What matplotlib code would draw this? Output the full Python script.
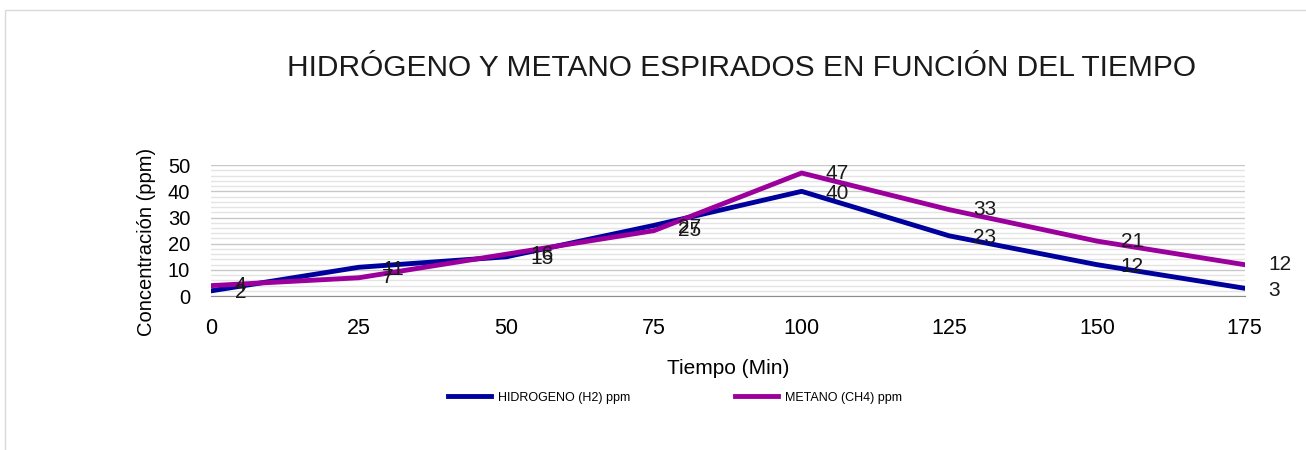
import matplotlib
matplotlib.use("Agg")
import matplotlib.pyplot as plt
from matplotlib.patches import Rectangle
from matplotlib.ticker import MultipleLocator

plt.rcParams['font.family'] = ['Liberation Sans', 'DejaVu Sans']

tiempo = [0, 25, 50, 75, 100, 125, 150, 175]
hidrogeno = [2, 11, 15, 27, 40, 23, 12, 3]
metano = [4, 7, 16, 25, 47, 33, 21, 12]

c_h2 = '#00009c'
c_ch4 = '#9c009c'

fig = plt.figure(figsize=(13.06, 4.5), dpi=100)
ax = fig.add_axes([0.1616, 0.342, 0.7914, 0.291])

# frame around the whole chart (right/bottom edges run off the image)
fig.patches.append(Rectangle((0.004, -0.05), 1.2, 1.028, transform=fig.transFigure,
                             fill=False, edgecolor='#d9d9d9', linewidth=1))

l1, = ax.plot(tiempo, hidrogeno, color=c_h2, linewidth=3.5, label='HIDROGENO (H2) ppm')
l2, = ax.plot(tiempo, metano, color=c_ch4, linewidth=3.5, label='METANO (CH4) ppm')

for x, y in zip(tiempo, hidrogeno):
    ax.annotate(str(y), (x, y), xytext=(17, -1.5), textcoords='offset points',
                va='center', ha='left', fontsize=15, color='#1a1a1a')
for x, y in zip(tiempo, metano):
    ax.annotate(str(y), (x, y), xytext=(17, 0), textcoords='offset points',
                va='center', ha='left', fontsize=15, color='#1a1a1a')

ax.set_xlim(0, 175)
ax.set_ylim(0, 50)
ax.set_xticks(tiempo)
ax.yaxis.set_major_locator(MultipleLocator(10))
ax.yaxis.set_minor_locator(MultipleLocator(2))
ax.grid(axis='y', which='major', color='#c8c8c8', linewidth=1)
ax.grid(axis='y', which='minor', color='#e4e4e4', linewidth=1)
ax.set_axisbelow(True)
for s in ['top', 'right', 'left']:
    ax.spines[s].set_visible(False)
ax.spines['bottom'].set_color('#8c8c8c')
ax.tick_params(axis='both', which='both', length=0)
ax.tick_params(axis='x', pad=16, labelsize=15.5)
ax.tick_params(axis='y', pad=15, labelsize=14.5)

ax.set_xlabel('Tiempo (Min)', fontsize=15, labelpad=14)
ax.set_ylabel('Concentración (ppm)', fontsize=14.5, va='center')
ax.yaxis.set_label_coords(-0.062, 0.41)

fig.text(0.568, 0.849, 'HIDRÓGENO Y METANO ESPIRADOS EN FUNCIÓN DEL TIEMPO',
         ha='center', va='center', fontsize=21.5, color='#1a1a1a')

fig.legend(handles=[l1, l2], loc='center', bbox_to_anchor=(0.517, 0.116), ncol=2,
           frameon=False, fontsize=9, handlelength=3.45, columnspacing=8.4,
           handletextpad=0.55)

fig.savefig('out.png', dpi=100)
